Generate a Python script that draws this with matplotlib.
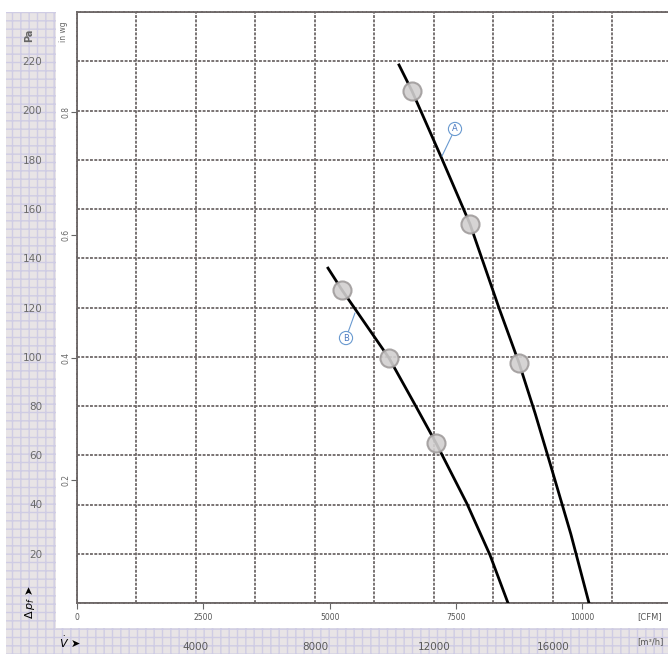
import matplotlib
matplotlib.use('Agg')
import matplotlib.pyplot as plt
from matplotlib.patches import Rectangle

# Fan curves, flow in m3/h, pressure in Pa
curve_a_flow = [10824, 11261, 12269, 13210, 14185, 14857, 15400, 15899, 16600, 17210]
curve_a_pa = [218.5, 207.9, 180.3, 153.9, 119.8, 97.5, 77.0, 56.8, 28.0, 0.0]
curve_b_flow = [8437, 8908, 10487, 11294, 12067, 13109, 13882, 14487]
curve_b_pa = [136.0, 127.1, 99.5, 82.0, 65.0, 40.3, 19.5, 0.0]

# Operating points
marks_a_flow = [11261, 13210, 14857]
marks_a_pa = [207.9, 153.9, 97.5]
marks_b_flow = [8908, 10487, 12067]
marks_b_pa = [127.1, 99.5, 65.0]

pa_ticks = [20, 40, 60, 80, 100, 120, 140, 160, 180, 200, 220]
inwg_ticks = [0.2, 0.4, 0.6, 0.8]
m3h_ticks = [4000, 8000, 12000, 16000]
cfm_ticks = [0, 2500, 5000, 7500, 10000]

W, H = 668, 654
fig = plt.figure(figsize=(W / 100, H / 100), dpi=100)


def fx(px):
    return px / W


def fy(py):
    return 1 - py / H


# grey chequered frame (left column + bottom band)
for x0, y0, x1, y1 in [(6, 12, 56, 654), (56, 628, 668, 654)]:
    fig.patches.append(Rectangle((fx(x0), fy(y1)), fx(x1) - fx(x0), fy(y0) - fy(y1),
                                 transform=fig.transFigure, facecolor='#e8e4e6',
                                 edgecolor='#cfcce4', hatch='++', lw=0, zorder=-1))

ax = fig.add_axes([fx(77), fy(603), fx(668) - fx(77), fy(12) - fy(603)])
ax.set_xlim(0, 19866)
ax.set_ylim(0, 240)

grid_kw = dict(color='#6e6868', linestyle=(0, (1.6, 0.8)), lw=1.3)
ax.set_xticks(range(0, 20000, 2000), minor=True)
ax.set_yticks(range(0, 241, 20), minor=True)
ax.grid(True, which='both', **grid_kw)
for s in ['left', 'bottom', 'top']:
    ax.spines[s].set(**grid_kw)
ax.spines['right'].set_visible(False)

ax.set_yticks(pa_ticks)
ax.set_yticklabels([str(v) for v in pa_ticks])
ax.tick_params(axis='y', which='both', length=0, pad=25, labelsize=7.5, labelcolor='#6a6a6a')
ax.set_xticks(m3h_ticks)
ax.set_xticklabels([str(v) for v in m3h_ticks])
ax.tick_params(axis='x', which='both', length=0, pad=28, labelsize=7.5, labelcolor='#5a5a5a')

# in wg scale on the left
sec_y = ax.secondary_yaxis('left', functions=(lambda p: p / 249.09, lambda w: w * 249.09))
sec_y.set_yticks(inwg_ticks)
sec_y.set_yticklabels([f'{v:.1f}' for v in inwg_ticks], rotation=90, va='center')
sec_y.tick_params(length=4, width=0.8, color='#666666', pad=1, labelsize=5.5, labelcolor='#666666')
sec_y.spines['left'].set_visible(False)

# CFM scale at the bottom
sec_x = ax.secondary_xaxis('bottom', functions=(lambda q: q / 1.699, lambda c: c * 1.699))
sec_x.set_xticks(cfm_ticks)
sec_x.set_xticklabels([str(v) for v in cfm_ticks])
sec_x.tick_params(length=4, width=0.8, color='#666666', pad=3, labelsize=5.5, labelcolor='#555555')
sec_x.spines['bottom'].set_visible(False)

ax.plot(curve_a_flow, curve_a_pa, color='black', lw=2, zorder=3)
ax.plot(curve_b_flow, curve_b_pa, color='black', lw=2, zorder=3)
ax.plot(marks_a_flow + marks_b_flow, marks_a_pa + marks_b_pa, 'o', ms=13,
        mfc='#d2d0d0', mec='#a09c9c', mew=1.5, alpha=0.9, zorder=4)

lbl_kw = dict(fontsize=6, color='#4a78c0', ha='center', va='center',
              bbox=dict(boxstyle='circle,pad=0.25', fc='white', ec='#6a9ad0', lw=0.8),
              arrowprops=dict(arrowstyle='-', color='#6a9ad0', lw=0.8, shrinkA=0, shrinkB=0),
              zorder=5)
ax.annotate('A', xy=(12269, 181.5), xytext=(12706, 192.5), **lbl_kw)
ax.annotate('B', xy=(9345, 117.8), xytext=(9042, 107.6), **lbl_kw)

# unit and symbol labels
fig.text(fx(650), fy(617), '[CFM]', fontsize=6, color='#555555', ha='center', va='center')
fig.text(fx(650), fy(642), '[m³/h]', fontsize=6, color='#555555', ha='center', va='center')
fig.text(fx(29), fy(35), 'Pa', fontsize=7, color='#666666', rotation=90,
         ha='center', va='center', fontweight='bold')
fig.text(fx(64), fy(32), 'in wg', fontsize=5.5, color='#666666', rotation=90,
         ha='center', va='center')
fig.text(fx(30), fy(602), r'$\Delta\, p_f$ ➤', fontsize=8, color='black', rotation=90,
         ha='center', va='center', fontweight='bold')
fig.text(fx(70), fy(642), r'$\dot{V}$ ➤', fontsize=8, color='black',
         ha='center', va='center', fontweight='bold')

fig.savefig('out.png', dpi=100)
